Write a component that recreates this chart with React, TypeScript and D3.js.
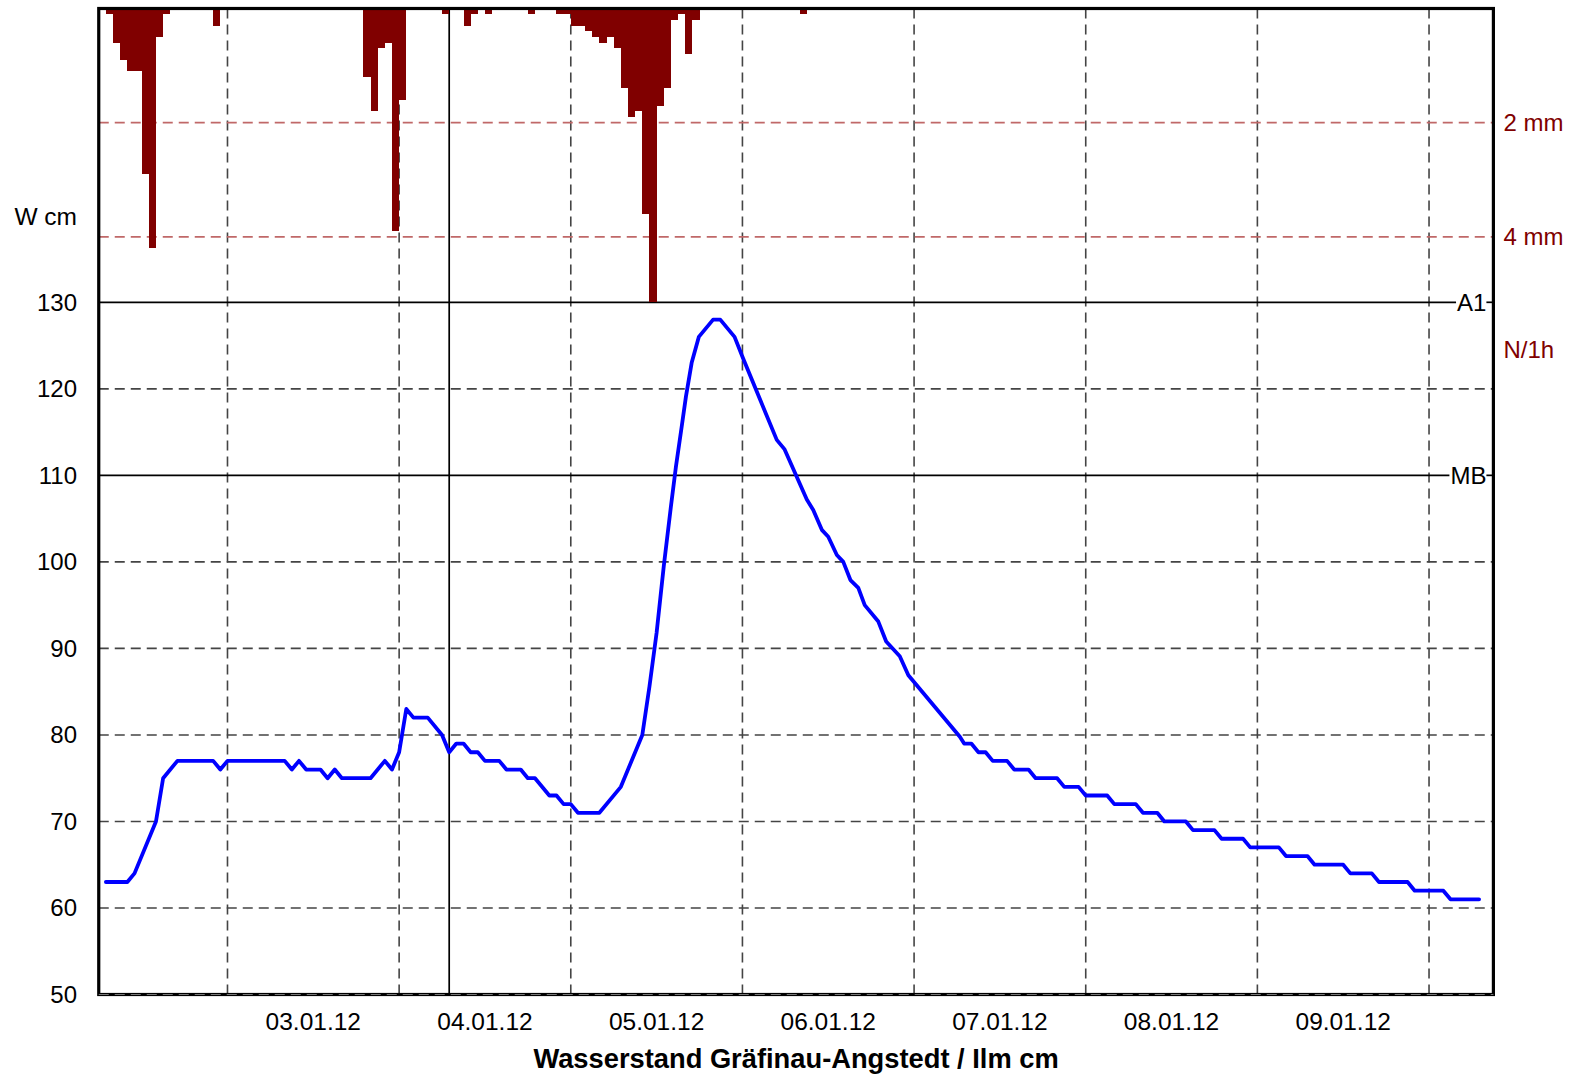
import React from 'react';
import * as d3 from 'd3';

// ---- data ----
const startTime = new Date(2012, 0, 2, 6, 0);
const endTime = new Date(2012, 0, 10, 9, 0);
const nowTime = new Date(2012, 0, 4, 7, 0);

// water level: hours after start, value in cm
const levelHours = [
  1, 4, 5, 8, 9, 11, 16, 17, 18, 26, 27, 28, 29, 31, 32, 33, 34, 38, 40, 41, 42, 43, 44, 46, 48, 49, 50, 51, 52, 53,
  54, 56, 57, 59, 60, 61, 63, 64, 65, 66, 67, 70, 73, 76, 77, 78, 79, 80, 80.7, 81.5, 82.1, 82.9, 83.9, 85.9, 86.9,
  88.9, 90.1, 94.8, 95.9, 99, 99.9, 101.1, 102, 103.2, 104.1, 105.1, 106.2, 107.1, 109, 110.1, 112, 113.2, 120.4,
  121, 122, 123, 124, 125, 127, 128, 130, 131, 134, 135, 137, 138, 141, 142, 145, 146, 148, 149, 152, 153, 156, 157,
  160, 161, 165, 166, 169, 170, 174, 175, 178, 179, 183, 184, 188, 189, 193,
];
const levelCm = [
  63, 63, 64, 70, 75, 77, 77, 76, 77, 77, 76, 77, 76, 76, 75, 76, 75, 75, 77, 76, 78, 83, 82, 82, 80, 78, 79, 79, 78, 78,
  77, 77, 76, 76, 75, 75, 73, 73, 72, 72, 71, 71, 74, 80, 85.6, 91.8, 99.5, 106.4, 111, 115.6, 119.1, 123, 126, 128, 128,
  126, 123.5, 114.1, 113, 107.2, 106, 103.7, 102.9, 100.8, 100, 97.9, 97, 95, 93.1, 90.8, 89.1, 86.9, 79.8,
  79, 79, 78, 78, 77, 77, 76, 76, 75, 75, 74, 74, 73, 73, 72, 72, 71, 71, 70, 70, 69, 69, 68,
  68, 67, 67, 66, 66, 65, 65, 64, 64, 63, 63, 62, 62, 61, 61,
];

// precipitation per hour: hour (after start) and mm
const rainHours = [
  1, 2, 3, 4, 5, 6, 7, 8, 9, 16, 37, 38, 39, 40, 41, 42, 48, 51, 52, 54, 60, 64, 65, 66, 67, 68, 69, 70, 71, 72, 73,
  74, 75, 76, 77, 78, 79, 80, 81, 82, 83, 98,
];
const rainMm = [
  0.1, 0.6, 0.9, 1.1, 1.1, 2.9, 4.2, 0.5, 0.1, 0.3, 1.2, 1.8, 0.7, 0.6, 3.9, 1.6, 0.1, 0.3, 0.1, 0.1, 0.1, 0.1, 0.1,
  0.3, 0.3, 0.4, 0.5, 0.6, 0.5, 0.7, 1.4, 1.9, 1.8, 3.6, 5.2, 1.7, 1.4, 0.2, 0.1, 0.8, 0.2, 0.1,
];

const levelTicks = [50, 60, 70, 80, 90, 100, 110, 120, 130];
const markValues = [130, 110];
const markLabels = ['A1', 'MB'];
const rainGrid = [2, 4];
const rainGridLabels = ['2 mm', '4 mm'];
const dayLabels = ['03.01.12', '04.01.12', '05.01.12', '06.01.12', '07.01.12', '08.01.12', '09.01.12'];

const title = 'Wasserstand Gräfinau-Angstedt / Ilm cm';

// ---- layout ----
const W = 1580;
const H = 1074;
const L = 98.75;
const R = 1493.4;
const T = 8.5;
const B = 994.5;
const FONT = '"Liberation Sans", Arial, Helvetica, sans-serif';
const FS = 24;

function textWidth(s: string, size: number, weight = 'normal') {
  const c = document.createElement('canvas').getContext('2d');
  if (!c) return s.length * size * 0.6;
  c.font = `${weight} ${size}px "Liberation Sans", Arial, sans-serif`;
  return c.measureText(s).width;
}

export default function App() {
  const x = d3.scaleTime().domain([startTime, endTime]).range([L, R]);
  const y = d3.scaleLinear().domain([50, 130]).range([B, 302.3]);
  const yr = d3.scaleLinear().domain([0, 4]).range([T, 236.8]);
  const at = (h: number) => new Date(startTime.getTime() + h * 3600000);

  const dayLines = d3.timeDay.range(d3.timeDay.ceil(startTime), endTime);
  const parse = d3.timeParse('%d.%m.%y');

  const line = d3
    .line<number>()
    .x((_, i) => x(at(levelHours[i])))
    .y((v) => y(v));

  const gridColor = '#444';
  const rainColor = '#800000';
  const rainGridColor = '#c06868';
  const barLimit = y(130);

  return (
    <svg width={W} height={H} style={{ position: 'absolute', left: 0, top: 0, background: '#fff' }} fontFamily={FONT}>
      <rect x={0} y={0} width={W} height={H} fill="#fff" />
      {/* horizontal dashed grid */}
      {levelTicks
        .filter((v) => !markValues.includes(v))
        .map((v) => (
          <line key={'hg' + v} x1={L} x2={R} y1={y(v)} y2={y(v)} stroke={gridColor} strokeWidth={1.6} strokeDasharray="10,6" />
        ))}
      {/* vertical day lines */}
      {dayLines.map((d, i) => (
        <line key={'vg' + i} x1={x(d)} x2={x(d)} y1={T} y2={B + 4} stroke={gridColor} strokeWidth={1.6} strokeDasharray="10,6" />
      ))}
      {/* precipitation grid */}
      {rainGrid.map((v) => (
        <line key={'rg' + v} x1={L} x2={R} y1={yr(v)} y2={yr(v)} stroke={rainGridColor} strokeWidth={1.8} strokeDasharray="10,6" />
      ))}
      {/* mark lines A1 / MB */}
      {markValues.map((v, i) => {
        const tw = textWidth(markLabels[i], FS);
        const tx = R - 7;
        return (
          <g key={'m' + v}>
            <line x1={L} x2={tx - tw - 1} y1={y(v)} y2={y(v)} stroke="#000" strokeWidth={1.7} />
            <line x1={tx} x2={R} y1={y(v)} y2={y(v)} stroke="#000" strokeWidth={1.7} />
            <text x={tx} y={y(v)} dy="0.35em" textAnchor="end" fontSize={FS} fill="#000">
              {markLabels[i]}
            </text>
          </g>
        );
      })}
      {/* now line */}
      <line x1={x(nowTime)} x2={x(nowTime)} y1={T} y2={B} stroke="#000" strokeWidth={1.7} />
      {/* precipitation bars */}
      {rainHours.map((h, i) => {
        const x0 = Math.round(x(at(h)));
        const x1 = Math.round(x(at(h + 1)));
        const yb = Math.round(Math.min(yr(rainMm[i]), barLimit));
        return (
          <rect
            key={'b' + i}
            x={x0}
            y={Math.floor(T)}
            width={x1 - x0}
            height={yb - Math.floor(T)}
            fill={rainColor}
            shapeRendering="crispEdges"
          />
        );
      })}
      {/* frame */}
      <rect x={L} y={T} width={R - L} height={B - T} fill="none" stroke="#000" strokeWidth={3.2} />
      <line x1={L} x2={R} y1={B} y2={B} stroke="#777" strokeWidth={1.2} strokeDasharray="10,6" />
      {/* water level */}
      <path d={line(levelCm) || ''} fill="none" stroke="#0000ff" strokeWidth={3.8} strokeLinejoin="round" strokeLinecap="round" />
      {/* y tick labels */}
      {levelTicks.map((v) => (
        <text key={'yt' + v} x={77} y={y(v)} dy="0.35em" textAnchor="end" fontSize={FS} fill="#000">
          {v}
        </text>
      ))}
      <text x={77} y={216} dy="0.35em" textAnchor="end" fontSize={24.5} fill="#000">
        W cm
      </text>
      {/* right labels */}
      {rainGrid.map((v, i) => (
        <text key={'rl' + v} x={R + 10} y={yr(v)} dy="0.35em" fontSize={FS} fill={rainColor}>
          {rainGridLabels[i]}
        </text>
      ))}
      <text x={R + 10} y={350} dy="0.35em" fontSize={FS} fill={rainColor}>
        N/1h
      </text>
      {/* x labels */}
      {dayLabels.map((s) => {
        const d = parse(s) as Date;
        return (
          <text key={s} x={x(d3.timeHour.offset(d, 12))} y={1021} dy="0.35em" textAnchor="middle" fontSize={24.5} fill="#000">
            {s}
          </text>
        );
      })}
      <text x={(L + R) / 2} y={1058} dy="0.35em" textAnchor="middle" fontSize={27.3} fontWeight="bold" fill="#000">
        {title}
      </text>
    </svg>
  );
}
